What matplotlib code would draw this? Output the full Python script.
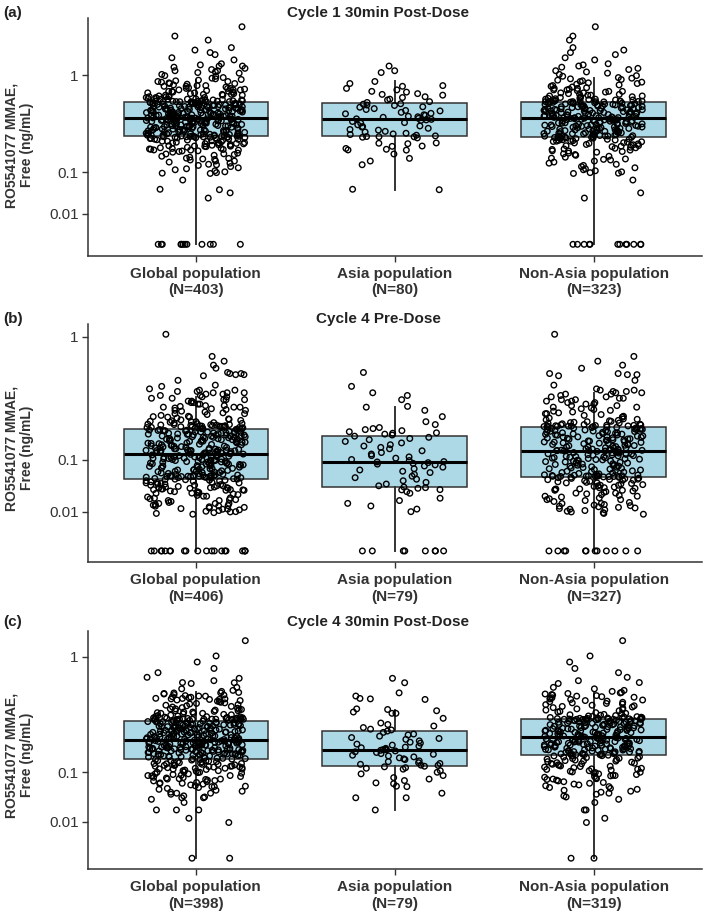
import numpy as np
import matplotlib
matplotlib.use("Agg")
import matplotlib.pyplot as plt
from matplotlib.ticker import FixedLocator, NullLocator

plt.rcParams['font.family'] = ['Liberation Sans', 'DejaVu Sans']

# ---------------- data ----------------
GROUPS = ["Global population", "Asia population", "Non-Asia population"]
PANEL_LETTERS = ["(a)", "(b)", "(c)"]
PANEL_TITLES = ["Cycle 1 30min Post-Dose", "Cycle 4 Pre-Dose", "Cycle 4 30min Post-Dose"]
N_A = [403, 80, 323]
N_B = [406, 79, 327]
N_C = [398, 79, 319]
Y_TICKS = [0.01, 0.1, 1]
Y_TICK_LABELS = ["0.01", "0.1", "1"]
Y_LABEL = "RO5541077 MMAE,\nFree (ng/mL)"

# box statistics per group: (whisker low, Q1, median, Q3, whisker high)
BOX_A = [(0.0, 0.297, 0.45, 0.62, 0.93),
         (0.047, 0.30, 0.443, 0.61, 0.90),
         (0.0, 0.294, 0.45, 0.626, 0.95)]
BOX_B = [(0.0, 0.0524, 0.1174, 0.217, 0.41),
         (0.0, 0.0377, 0.092, 0.186, 0.343),
         (0.0, 0.0573, 0.1286, 0.229, 0.437)]
BOX_C = [(0.0, 0.149, 0.237, 0.357, 0.598),
         (0.0211, 0.122, 0.186, 0.29, 0.436),
         (0.0, 0.164, 0.251, 0.366, 0.581)]

# individual concentrations (BLQ plotted at 0); Global = Asia + Non-Asia
ASIA_A = [1.15, 1.07, 1.04, 0.90, 0.87, 0.84, 0.83, 0.80, 0.78, 0.76,
          0.75, 0.73, 0.72, 0.71, 0.69, 0.68, 0.66, 0.65, 0.63, 0.62,
          0.605, 0.60, 0.59, 0.585, 0.57, 0.565, 0.55, 0.54, 0.53, 0.525,
          0.51, 0.50, 0.495, 0.485, 0.48, 0.47, 0.465, 0.46, 0.45, 0.445,
          0.44, 0.435, 0.43, 0.42, 0.41, 0.405, 0.39, 0.38, 0.375, 0.37,
          0.36, 0.35, 0.345, 0.335, 0.33, 0.32, 0.315, 0.31, 0.305, 0.30,
          0.295, 0.294, 0.293, 0.29, 0.285, 0.25, 0.248, 0.245, 0.23, 0.228,
          0.215, 0.21, 0.206, 0.205, 0.183, 0.16, 0.147, 0.13, 0.048, 0.047]

NONASIA_A = [1.97, 1.75, 1.66, 1.50, 1.45, 1.40, 1.36, 1.30, 1.26, 1.19,
             1.17, 1.15, 1.13, 1.11, 1.09, 1.07, 1.05, 1.03, 1.01, 0.99,
             0.98, 0.96, 0.95, 0.94, 0.93, 0.92, 0.91, 0.90, 0.89, 0.88,
             0.87, 0.86, 0.85, 0.84, 0.83, 0.82, 0.81, 0.80, 0.80, 0.79,
             0.78, 0.78, 0.77, 0.76, 0.76, 0.75, 0.74, 0.74, 0.73, 0.72,
             0.72, 0.71, 0.71, 0.70, 0.70, 0.69, 0.69, 0.68, 0.68, 0.67,
             0.67, 0.665, 0.66, 0.66, 0.655, 0.65, 0.65, 0.645, 0.64, 0.64,
             0.638, 0.636, 0.635, 0.634, 0.632, 0.63, 0.63, 0.629, 0.628, 0.627,
             0.624, 0.621, 0.619, 0.616, 0.615, 0.612, 0.609, 0.608, 0.605, 0.603,
             0.601, 0.598, 0.597, 0.594, 0.591, 0.59, 0.588, 0.585, 0.583, 0.58,
             0.578, 0.577, 0.574, 0.571, 0.57, 0.567, 0.565, 0.562, 0.561, 0.558,
             0.556, 0.553, 0.552, 0.55, 0.547, 0.545, 0.542, 0.541, 0.538, 0.536,
             0.534, 0.531, 0.53, 0.527, 0.525, 0.522, 0.52, 0.518, 0.516, 0.513,
             0.511, 0.509, 0.507, 0.504, 0.503, 0.5, 0.498, 0.496, 0.493, 0.492,
             0.489, 0.487, 0.485, 0.482, 0.48, 0.478, 0.476, 0.473, 0.472, 0.469,
             0.467, 0.465, 0.463, 0.46, 0.459, 0.457, 0.456, 0.454, 0.453, 0.452,
             0.451,
             0.449, 0.447, 0.444, 0.443, 0.441, 0.438, 0.437, 0.435, 0.432, 0.431,
             0.429, 0.426, 0.425, 0.423, 0.42, 0.419, 0.417, 0.414, 0.413, 0.411,
             0.408, 0.407, 0.405, 0.402, 0.401, 0.399, 0.396, 0.395, 0.393, 0.39,
             0.389, 0.387, 0.384, 0.383, 0.381, 0.378, 0.377, 0.375, 0.372, 0.371,
             0.369, 0.366, 0.365, 0.363, 0.36, 0.359, 0.357, 0.354, 0.353, 0.351,
             0.348, 0.347, 0.345, 0.342, 0.341, 0.339, 0.336, 0.335, 0.333, 0.33,
             0.329, 0.327, 0.324, 0.323, 0.321, 0.318, 0.317, 0.315, 0.312, 0.311,
             0.309, 0.306, 0.305, 0.303, 0.301, 0.3, 0.299, 0.298, 0.297, 0.296,
             0.295,
             0.293, 0.291, 0.29, 0.29, 0.288, 0.286, 0.285, 0.283, 0.28, 0.278,
             0.276, 0.275, 0.272, 0.27, 0.268, 0.265, 0.262, 0.262, 0.26, 0.258,
             0.255, 0.252, 0.25, 0.247, 0.244, 0.24, 0.238, 0.235, 0.233, 0.232,
             0.229, 0.226, 0.222, 0.219, 0.216, 0.212, 0.209, 0.205, 0.201, 0.2,
             0.197, 0.193, 0.188, 0.184, 0.18, 0.176, 0.171, 0.166, 0.161, 0.157,
             0.155, 0.152, 0.147, 0.142, 0.137, 0.132, 0.127, 0.122, 0.117, 0.113,
             0.109, 0.105, 0.101, 0.098, 0.096, 0.095, 0.073, 0.04, 0.03, 0.0,
             0.0, 0.0, 0.0, 0.0, 0.0, 0.0, 0.0, 0.0, 0.0, 0.0,
             0.0]

ASIA_B = [0.61, 0.49, 0.44, 0.42, 0.39, 0.345, 0.34, 0.32, 0.283, 0.255,
          0.24, 0.225, 0.22, 0.215, 0.21, 0.205, 0.2, 0.198, 0.194, 0.19,
          0.185, 0.18, 0.175, 0.17, 0.163, 0.157, 0.15, 0.145, 0.14, 0.135,
          0.128, 0.122, 0.117, 0.112, 0.108, 0.104, 0.1, 0.097, 0.094, 0.093,
          0.091, 0.089, 0.087, 0.085, 0.082, 0.079, 0.075, 0.072, 0.069, 0.066,
          0.062, 0.058, 0.055, 0.052, 0.049, 0.046, 0.043, 0.04, 0.038, 0.037,
          0.036, 0.034, 0.0336, 0.031, 0.0288, 0.0226, 0.02, 0.0171, 0.0147, 0.0121,
          0.0102, 0.0, 0.0, 0.0, 0.0, 0.0, 0.0, 0.0, 0.0]

NONASIA_B = [1.03, 0.77, 0.72, 0.68, 0.65, 0.6, 0.6, 0.59, 0.59, 0.58,
             0.54, 0.5, 0.47, 0.46, 0.46, 0.45, 0.45, 0.44, 0.44, 0.43,
             0.43, 0.42, 0.41, 0.41, 0.4, 0.4, 0.39, 0.39, 0.38, 0.38,
             0.37, 0.37, 0.36, 0.36, 0.35, 0.35, 0.34, 0.34, 0.335, 0.33,
             0.325, 0.32, 0.315, 0.31, 0.305, 0.3, 0.3, 0.295, 0.29, 0.285,
             0.28, 0.28, 0.275, 0.27, 0.268, 0.265, 0.262, 0.26, 0.257, 0.255,
             0.252, 0.25, 0.248, 0.246, 0.244, 0.242, 0.24, 0.239, 0.238, 0.237,
             0.236, 0.235, 0.234, 0.233, 0.232, 0.232, 0.231, 0.231, 0.23, 0.23,
             0.229,
             0.228, 0.226, 0.225, 0.224, 0.222, 0.221, 0.22, 0.219, 0.217, 0.216,
             0.215, 0.213, 0.212, 0.211, 0.21, 0.208, 0.207, 0.206, 0.204, 0.203,
             0.202, 0.2, 0.199, 0.198, 0.196, 0.195, 0.194, 0.193, 0.191, 0.19,
             0.189, 0.187, 0.186, 0.185, 0.183, 0.182, 0.181, 0.18, 0.178, 0.177,
             0.176, 0.174, 0.173, 0.172, 0.17, 0.169, 0.168, 0.167, 0.165, 0.164,
             0.163, 0.161, 0.16, 0.159, 0.157, 0.156, 0.155, 0.154, 0.152, 0.151,
             0.15, 0.148, 0.147, 0.146, 0.144, 0.143, 0.142, 0.141, 0.139, 0.138,
             0.137, 0.135, 0.134, 0.133, 0.132, 0.131, 0.1305, 0.13, 0.1295, 0.129,
             0.1288, 0.1287,
             0.128, 0.127, 0.126, 0.125, 0.124, 0.123, 0.122, 0.121, 0.12, 0.119,
             0.118, 0.117, 0.116, 0.115, 0.114, 0.113, 0.112, 0.111, 0.11, 0.109,
             0.108, 0.107, 0.106, 0.105, 0.104, 0.103, 0.102, 0.101, 0.1, 0.099,
             0.098, 0.097, 0.096, 0.095, 0.094, 0.093, 0.092, 0.091, 0.09, 0.089,
             0.088, 0.087, 0.086, 0.085, 0.084, 0.083, 0.082, 0.081, 0.08, 0.079,
             0.078, 0.077, 0.076, 0.075, 0.074, 0.073, 0.072, 0.071, 0.07, 0.069,
             0.068, 0.067, 0.066, 0.065, 0.064, 0.063, 0.062, 0.061, 0.0605, 0.06,
             0.0595, 0.059, 0.0588, 0.0585, 0.0582, 0.058, 0.0578, 0.0576, 0.0575, 0.0574,
             0.0573, 0.0572,
             0.0565, 0.056, 0.0555, 0.055, 0.054, 0.0535, 0.053, 0.052, 0.0515, 0.051,
             0.05, 0.049, 0.048, 0.047, 0.046, 0.045, 0.044, 0.043, 0.042, 0.041,
             0.04, 0.039, 0.038, 0.037, 0.036, 0.035, 0.034, 0.033, 0.032, 0.031,
             0.03, 0.029, 0.028, 0.027, 0.026, 0.025, 0.024, 0.023, 0.022, 0.021,
             0.02, 0.019, 0.018, 0.017, 0.016, 0.0155, 0.015, 0.0145, 0.014, 0.0135,
             0.013, 0.0125, 0.012, 0.0115, 0.011, 0.0105, 0.01, 0.0095, 0.009, 0.0085,
             0.041, 0.037, 0.033, 0.029, 0.025, 0.021, 0.017, 0.045, 0.05, 0.035,
             0.0, 0.0, 0.0, 0.0, 0.0, 0.0, 0.0, 0.0, 0.0, 0.0,
             0.0, 0.0]

ASIA_C = [0.736, 0.688, 0.586, 0.556, 0.534, 0.53, 0.525, 0.445, 0.44, 0.43,
          0.42, 0.41, 0.41, 0.373, 0.34, 0.33, 0.32, 0.31, 0.3, 0.295,
          0.288, 0.28, 0.27, 0.265, 0.258, 0.25, 0.245, 0.24, 0.232, 0.225,
          0.22, 0.215, 0.21, 0.205, 0.2, 0.197, 0.194, 0.19, 0.188, 0.187,
          0.185, 0.182, 0.178, 0.175, 0.17, 0.167, 0.163, 0.16, 0.156, 0.152,
          0.148, 0.145, 0.14, 0.137, 0.133, 0.13, 0.127, 0.124, 0.123, 0.12,
          0.118, 0.115, 0.113, 0.11, 0.105, 0.1, 0.095, 0.09, 0.084, 0.08,
          0.076, 0.07, 0.068, 0.062, 0.061, 0.047, 0.0386, 0.0386, 0.021]

NONASIA_C = [1.23, 1.01, 0.93, 0.85, 0.8, 0.747, 0.71, 0.69, 0.68, 0.64,
             0.625, 0.61, 0.6, 0.59, 0.585, 0.58, 0.575, 0.57, 0.565, 0.56,
             0.555, 0.55, 0.545, 0.54, 0.535, 0.53, 0.525, 0.52, 0.515, 0.51,
             0.505, 0.5, 0.495, 0.49, 0.485, 0.48, 0.475, 0.47, 0.465, 0.46,
             0.455, 0.45, 0.445, 0.44, 0.435, 0.43, 0.425, 0.42, 0.415, 0.41,
             0.406, 0.402, 0.399, 0.396, 0.393, 0.39, 0.387, 0.385, 0.383, 0.381,
             0.379, 0.377, 0.376, 0.375, 0.374, 0.373, 0.372, 0.371, 0.37, 0.369,
             0.369, 0.368, 0.368, 0.367, 0.367, 0.367, 0.366, 0.366, 0.366, 0.366,
             0.365, 0.363, 0.362, 0.36, 0.359, 0.358, 0.356, 0.355, 0.353, 0.352,
             0.35, 0.349, 0.348, 0.346, 0.345, 0.343, 0.342, 0.34, 0.339, 0.338,
             0.336, 0.335, 0.333, 0.332, 0.33, 0.329, 0.328, 0.326, 0.325, 0.323,
             0.322, 0.32, 0.319, 0.318, 0.316, 0.315, 0.313, 0.312, 0.31, 0.309,
             0.308, 0.306, 0.305, 0.303, 0.302, 0.3, 0.299, 0.298, 0.296, 0.295,
             0.293, 0.292, 0.29, 0.289, 0.288, 0.286, 0.285, 0.283, 0.282, 0.28,
             0.279, 0.278, 0.276, 0.275, 0.273, 0.272, 0.27, 0.269, 0.268, 0.266,
             0.265, 0.263, 0.262, 0.26, 0.259, 0.258, 0.256, 0.255, 0.253, 0.252,
             0.25, 0.249, 0.248, 0.247, 0.246, 0.245, 0.243, 0.242, 0.241, 0.24,
             0.239, 0.238, 0.237, 0.236, 0.235, 0.233, 0.232, 0.231, 0.23, 0.229,
             0.228, 0.227, 0.226, 0.225, 0.223, 0.222, 0.221, 0.22, 0.219, 0.218,
             0.217, 0.216, 0.215, 0.213, 0.212, 0.211, 0.21, 0.209, 0.208, 0.207,
             0.206, 0.205, 0.203, 0.202, 0.201, 0.2, 0.199, 0.198, 0.197, 0.196,
             0.195, 0.193, 0.192, 0.191, 0.19, 0.189, 0.188, 0.187, 0.186, 0.185,
             0.183, 0.182, 0.181, 0.18, 0.179, 0.178, 0.177, 0.176, 0.175, 0.173,
             0.172, 0.171, 0.17, 0.169, 0.168, 0.167, 0.166, 0.166, 0.165, 0.165,
             0.163, 0.161, 0.159, 0.157, 0.155, 0.153, 0.151, 0.149, 0.147, 0.145,
             0.143, 0.141, 0.139, 0.137, 0.135, 0.133, 0.131, 0.129, 0.127, 0.125,
             0.123, 0.121, 0.119, 0.117, 0.115, 0.113, 0.111, 0.109, 0.107, 0.105,
             0.103, 0.101, 0.099, 0.097, 0.095, 0.093, 0.091, 0.089, 0.087, 0.085,
             0.083, 0.081, 0.079, 0.077, 0.075, 0.073, 0.071, 0.069, 0.067, 0.065,
             0.063, 0.061, 0.059, 0.057, 0.055, 0.053, 0.051, 0.049, 0.047, 0.045,
             0.042, 0.04, 0.036, 0.031, 0.021, 0.021, 0.0126, 0.0093, 0.0, 0.0,
             0.14, 0.13, 0.12, 0.11, 0.1, 0.09, 0.08, 0.15, 0.16]

PANELS = [
    dict(letter=PANEL_LETTERS[0], title=PANEL_TITLES[0], n=N_A, box=BOX_A, asia=ASIA_A, nonasia=NONASIA_A),
    dict(letter=PANEL_LETTERS[1], title=PANEL_TITLES[1], n=N_B, box=BOX_B, asia=ASIA_B, nonasia=NONASIA_B),
    dict(letter=PANEL_LETTERS[2], title=PANEL_TITLES[2], n=N_C, box=BOX_C, asia=ASIA_C, nonasia=NONASIA_C),
]

# ---------------- layout / style ----------------
W, H = 709, 916
P_EXP = 0.37


def fwd(v):
    v = np.asarray(v, dtype=float)
    return np.sign(v) * np.abs(v) ** P_EXP


def inv(v):
    v = np.asarray(v, dtype=float)
    return np.sign(v) * np.abs(v) ** (1.0 / P_EXP)


# axes in pixels: (left, top, right, bottom), and y-limits in transformed units
AX_PX = [(87.7, 18.3, 701.7, 256.0), (87.7, 324.0, 701.7, 562.3), (87.7, 630.7, 701.7, 869.3)]
F_LIMS = [(-0.069, 1.335), (-0.053, 1.059), (-0.055, 1.129)]
TITLE_BASE = [17.0, 323.0, 626.0]
YLAB_CY = [145.0, 448.0, 755.0]

DARK = "#333333"
BOX_FILL = "#ADD8E6"
POS = [1, 2, 3]
BOX_W = 0.726
JIT = 0.25


def jitter(n, seed):
    # deterministic hash-based horizontal spread (position only)
    i = np.arange(n) + 1.0
    h = np.sin(i * 12.9898 + seed * 78.233) * 43758.5453
    return ((h - np.floor(h)) - 0.5) * 2 * JIT


fig = plt.figure(figsize=(W / 100, H / 100), dpi=100)

for k, pnl in enumerate(PANELS):
    l, t, r, b = AX_PX[k]
    ax = fig.add_axes([l / W, 1 - b / H, (r - l) / W, (b - t) / H])
    ax.set_yscale('function', functions=(fwd, inv))
    ax.set_ylim(float(inv(F_LIMS[k][0])), float(inv(F_LIMS[k][1])))
    ax.set_xlim(0.457, 3.543)

    stats = []
    for (wlo, q1, med, q3, whi) in pnl["box"]:
        stats.append(dict(whislo=wlo, q1=q1, med=med, q3=q3, whishi=whi, fliers=[]))
    ax.bxp(stats, positions=POS, widths=BOX_W, patch_artist=True,
           showfliers=False, showcaps=False, manage_ticks=False,
           boxprops=dict(facecolor=BOX_FILL, edgecolor=DARK, linewidth=1.1),
           whiskerprops=dict(color=DARK, linewidth=1.4),
           medianprops=dict(color="black", linewidth=2.2))

    glob = sorted(pnl["asia"] + pnl["nonasia"], reverse=True)
    groups_vals = [glob, pnl["asia"], pnl["nonasia"]]
    for gi, vals in enumerate(groups_vals):
        vals = np.asarray(vals, dtype=float)
        xs = POS[gi] + jitter(len(vals), 1.7 * gi + 3.1 * k + 0.5)
        ax.scatter(xs, vals, s=16, facecolors="none", edgecolors="black",
                   linewidths=1.0, zorder=3)

    ax.yaxis.set_major_locator(FixedLocator(Y_TICKS))
    ax.yaxis.set_minor_locator(NullLocator())
    ax.set_yticklabels(Y_TICK_LABELS, fontsize=11, color=DARK)
    ax.set_xticks(POS)
    ax.set_xticklabels([f"{g}\n(N={n})" for g, n in zip(GROUPS, pnl["n"])],
                       fontsize=11, fontweight="bold", color=DARK, linespacing=1.2)
    ax.tick_params(axis="both", length=4, width=1.0, color=DARK, pad=2.5)
    ax.tick_params(axis="x", pad=4.0)
    for s in ["top", "right"]:
        ax.spines[s].set_visible(False)
    for s in ["left", "bottom"]:
        ax.spines[s].set_linewidth(1.1)
        ax.spines[s].set_color(DARK)

    fig.text(378 / W, 1 - TITLE_BASE[k] / H, pnl["title"], ha="center", va="baseline",
             fontsize=11, fontweight="bold", color="#222222")
    fig.text(3 / W, 1 - TITLE_BASE[k] / H, pnl["letter"], ha="left", va="baseline",
             fontsize=11, fontweight="bold", color="#222222")
    fig.text(19.5 / W, 1 - YLAB_CY[k] / H, Y_LABEL, rotation=90, ha="center", va="center",
             fontsize=10, fontweight="bold", color=DARK, linespacing=1.15,
             multialignment="center")

fig.savefig("out.png", dpi=100)
